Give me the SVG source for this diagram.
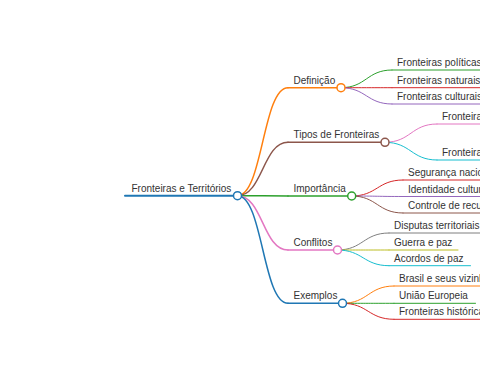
<svg xmlns="http://www.w3.org/2000/svg" width="480" height="379" viewBox="0 0 480 379">
<style>
text{font-family:"Liberation Sans",Arial,sans-serif;font-size:10px;fill:#333}
path,line{fill:none;stroke-linecap:round}
.l0{stroke-width:2}
.l1{stroke-width:1.5}
.l2{stroke-width:1}
circle{fill:#fff;stroke-width:1.5}
</style>
<rect width="480" height="379" fill="#fff"/>
<g id="connectors">
<path class="l1" stroke="#ff7f0e" d="M237.5,195.7 C262.75,195.7 262.75,87.7 288,87.7"/>
<path class="l1" stroke="#8c564b" d="M237.5,195.7 C262.75,195.7 262.75,142.3 288,142.3"/>
<path class="l1" stroke="#2ca02c" d="M237.5,195.7 C262.75,195.7 262.75,196 288,196"/>
<path class="l1" stroke="#e377c2" d="M237.5,195.7 C262.75,195.7 262.75,250 288,250"/>
<path class="l1" stroke="#1f77b4" d="M237.5,195.7 C262.75,195.7 262.75,303.3 288,303.3"/>
<path class="l2" stroke="#2ca02c" d="M341,87.7 C366.5,87.7 366.5,70 392,70"/>
<path class="l2" stroke="#d62728" d="M341,87.7 C366.5,87.7 366.5,87.7 392,87.7"/>
<path class="l2" stroke="#9467bd" d="M341,87.7 C366.5,87.7 366.5,104 392,104"/>
<path class="l2" stroke="#e377c2" d="M385,142.3 C411,142.3 411,124 437,124"/>
<path class="l2" stroke="#17becf" d="M385,142.3 C411,142.3 411,160 437,160"/>
<path class="l2" stroke="#d62728" d="M351.7,196 C377.3,196 377.3,180 403,180"/>
<path class="l2" stroke="#9467bd" d="M351.7,196 C377.3,196 377.3,196.5 403,196.5"/>
<path class="l2" stroke="#8c564b" d="M351.7,196 C377.3,196 377.3,213 403,213"/>
<path class="l2" stroke="#7f7f7f" d="M337.5,250 C363.2,250 363.2,233 389,233"/>
<path class="l2" stroke="#bcbd22" d="M337.5,250 C363.2,250 363.2,250 389,250"/>
<path class="l2" stroke="#17becf" d="M337.5,250 C363.2,250 363.2,265.7 389,265.7"/>
<path class="l2" stroke="#ff7f0e" d="M342.5,303.3 C368.2,303.3 368.2,286 394,286"/>
<path class="l2" stroke="#2ca02c" d="M342.5,303.3 C368.2,303.3 368.2,303.3 394,303.3"/>
<path class="l2" stroke="#d62728" d="M342.5,303.3 C368.2,303.3 368.2,319.3 394,319.3"/>
</g>
<g id="n-root">
<line class="l0" stroke="#1f77b4" x1="125" y1="195.7" x2="237.5" y2="195.7"/>
<text x="131.5" y="191.5">Fronteiras e Territórios</text>
</g>
<g id="n-def">
<line class="l1" stroke="#ff7f0e" x1="288" y1="87.7" x2="341" y2="87.7"/>
<text x="293.5" y="83.5">Definição</text>
</g>
<g id="n-def-1"><line class="l2" stroke="#2ca02c" x1="392" y1="70" x2="490" y2="70"/><text x="397" y="66">Fronteiras políticas</text></g>
<g id="n-def-2"><line class="l2" stroke="#d62728" x1="392" y1="87.7" x2="490" y2="87.7"/><text x="397" y="83.5">Fronteiras naturais</text></g>
<g id="n-def-3"><line class="l2" stroke="#9467bd" x1="392" y1="104" x2="490" y2="104"/><text x="397" y="100">Fronteiras culturais</text></g>
<g id="n-tipos">
<line class="l1" stroke="#8c564b" x1="288" y1="142.3" x2="385" y2="142.3"/>
<text x="293.5" y="138">Tipos de Fronteiras</text>
</g>
<g id="n-tipos-1"><line class="l2" stroke="#e377c2" x1="437" y1="124" x2="490" y2="124"/><text x="442" y="120">Fronteiras</text></g>
<g id="n-tipos-2"><line class="l2" stroke="#17becf" x1="437" y1="160" x2="490" y2="160"/><text x="442" y="156">Fronteiras</text></g>
<g id="n-imp">
<line class="l1" stroke="#2ca02c" x1="288" y1="196" x2="351.7" y2="196"/>
<text x="293.5" y="192.2">Importância</text>
</g>
<g id="n-imp-1"><line class="l2" stroke="#d62728" x1="403" y1="180" x2="490" y2="180"/><text x="408" y="176">Segurança nacional</text></g>
<g id="n-imp-2"><line class="l2" stroke="#9467bd" x1="403" y1="196.5" x2="490" y2="196.5"/><text x="408" y="192.5">Identidade cultural</text></g>
<g id="n-imp-3"><line class="l2" stroke="#8c564b" x1="403" y1="213" x2="490" y2="213"/><text x="408" y="209">Controle de recursos</text></g>
<g id="n-conf">
<line class="l1" stroke="#e377c2" x1="288" y1="250" x2="337.5" y2="250"/>
<text x="293.5" y="246">Conflitos</text>
</g>
<g id="n-conf-1"><line class="l2" stroke="#7f7f7f" x1="389" y1="233" x2="490" y2="233"/><text x="394" y="229">Disputas territoriais</text></g>
<g id="n-conf-2"><line class="l2" stroke="#bcbd22" x1="389" y1="250" x2="458" y2="250"/><text x="394" y="246">Guerra e paz</text></g>
<g id="n-conf-3"><line class="l2" stroke="#17becf" x1="389" y1="265.7" x2="470.5" y2="265.7"/><text x="394" y="261.7">Acordos de paz</text></g>
<g id="n-ex">
<line class="l1" stroke="#1f77b4" x1="288" y1="303.3" x2="342.5" y2="303.3"/>
<text x="293.5" y="299.3">Exemplos</text>
</g>
<g id="n-ex-1"><line class="l2" stroke="#ff7f0e" x1="394" y1="286" x2="490" y2="286"/><text x="399" y="282">Brasil e seus vizinhos</text></g>
<g id="n-ex-2"><line class="l2" stroke="#2ca02c" x1="394" y1="303.3" x2="475.5" y2="303.3"/><text x="399" y="299.3">União Europeia</text></g>
<g id="n-ex-3"><line class="l2" stroke="#d62728" x1="394" y1="319.3" x2="490" y2="319.3"/><text x="399" y="315.3">Fronteiras históricas</text></g>
<g id="circles">
<circle cx="237.5" cy="195.7" r="4" stroke="#1f77b4"/>
<circle cx="341" cy="87.7" r="4" stroke="#ff7f0e"/>
<circle cx="385" cy="142.3" r="4" stroke="#8c564b"/>
<circle cx="351.7" cy="196" r="4" stroke="#2ca02c"/>
<circle cx="337.5" cy="250" r="4" stroke="#e377c2"/>
<circle cx="342.5" cy="303.3" r="4" stroke="#1f77b4"/>
</g>
</svg>
